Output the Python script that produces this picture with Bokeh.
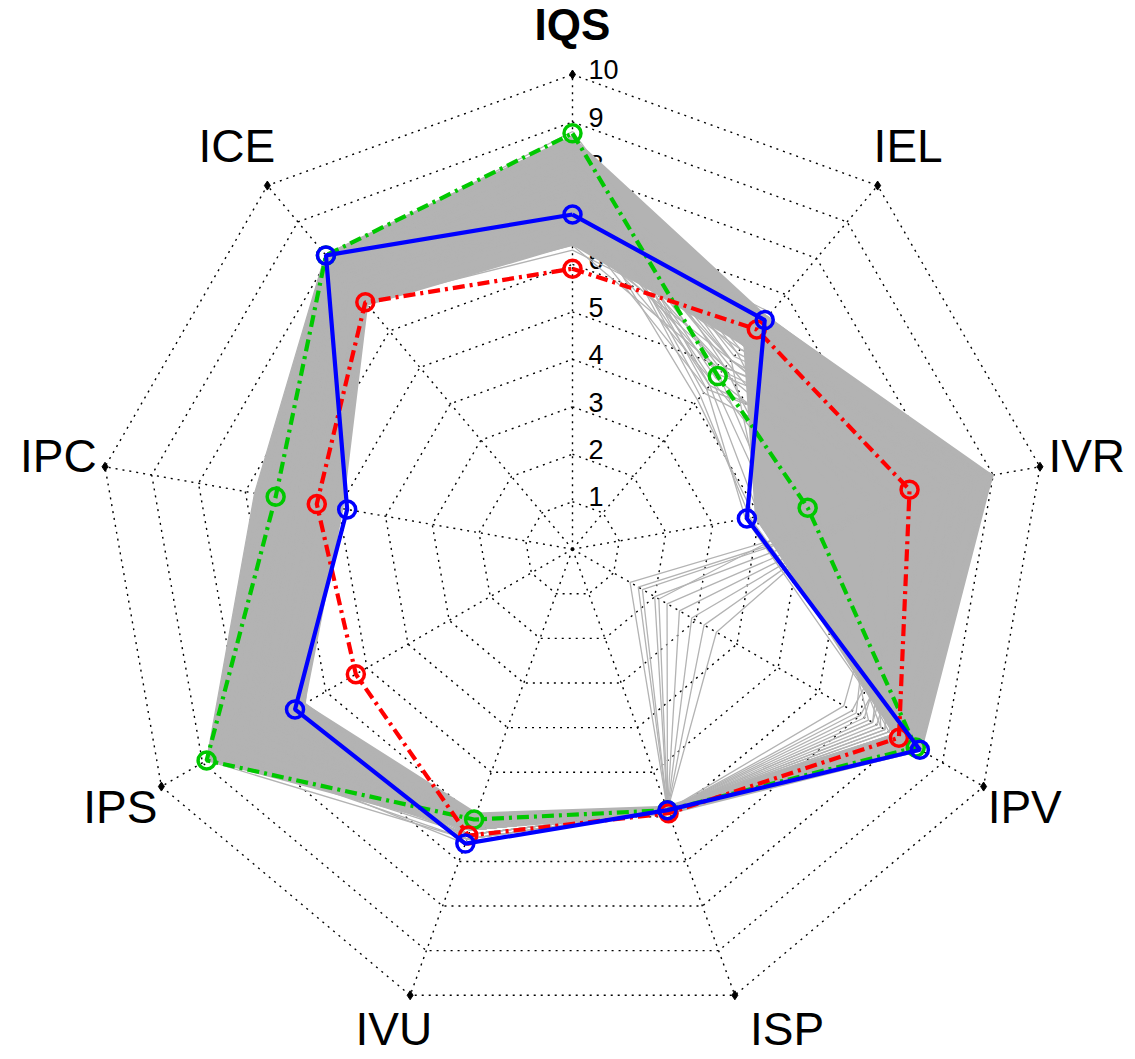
import numpy as np
from bokeh.plotting import figure
from bokeh.models import Range1d
from bokeh.core.properties import value
from bokeh.embed import file_html
from bokeh.resources import INLINE

# ---- data -------------------------------------------------------------
axis_names = ["IQS", "IEL", "IVR", "IPV", "ISP", "IVU", "IPS", "IPC", "ICE"]
ring_levels = [1, 2, 3, 4, 5, 6, 7, 8, 9, 10]
ring_labels = ["1", "2", "3", "4", "5", "6", "7", "8", "9", "10"]

green_scores = [8.76, 4.76, 5.03, 8.35, 5.85, 6.06, 8.90, 6.35, 8.08]
red_scores = [5.91, 6.04, 7.21, 7.94, 5.92, 6.42, 5.27, 5.47, 6.79]
blue_scores = [7.05, 6.30, 3.73, 8.45, 5.85, 6.60, 6.75, 4.82, 8.08]

# envelope of the bulk of the simulated profiles
band_outer = [8.7, 6.4, 9.0, 8.5, 5.95, 6.3, 8.9, 6.8, 8.1]
band_inner = [6.4, 5.6, 3.9, 7.8, 5.75, 5.9, 6.5, 4.9, 6.7]

# individual simulated profiles (IQS, IEL, IVR, IPV, ISP, IVU, IPS, IPC, ICE)
gray_profiles = [
    [8.7, 5.0, 8.9, 8.3, 5.85, 6.2, 8.8, 6.6, 8.1],
    [8.5, 5.3, 9.0, 8.1, 5.85, 6.3, 8.5, 6.4, 8.0],
    [8.4, 4.8, 8.6, 7.9, 5.85, 6.1, 8.7, 6.7, 7.9],
    [8.2, 5.6, 8.8, 8.4, 5.85, 6.4, 8.2, 6.2, 7.8],
    [8.0, 5.9, 8.4, 7.7, 5.85, 6.0, 8.0, 6.0, 7.7],
    [7.8, 6.1, 8.9, 8.2, 5.85, 6.5, 7.7, 5.8, 7.6],
    [7.6, 6.3, 8.1, 7.4, 5.85, 6.2, 7.5, 5.6, 7.4],
    [7.4, 6.4, 7.7, 7.1, 5.85, 6.1, 7.2, 5.4, 7.3],
    [7.2, 6.0, 8.5, 7.9, 5.85, 6.3, 7.0, 5.2, 7.1],
    [7.0, 5.7, 7.3, 7.6, 5.85, 6.4, 6.8, 5.0, 7.0],
    [6.8, 5.5, 8.7, 8.0, 5.85, 6.0, 6.6, 5.1, 6.9],
    [6.6, 5.2, 7.9, 7.3, 5.85, 6.2, 6.5, 5.3, 6.8],
    [6.4, 4.9, 8.2, 8.3, 5.85, 6.3, 6.9, 5.5, 6.9],
    [8.6, 4.5, 7.5, 8.0, 5.85, 6.5, 8.9, 6.8, 8.1],
    [8.3, 4.3, 6.9, 7.8, 5.85, 6.4, 8.6, 6.5, 8.0],
    [8.1, 4.7, 6.3, 7.5, 5.85, 6.1, 8.3, 6.3, 7.9],
    [7.9, 5.1, 5.8, 8.1, 5.85, 6.3, 8.1, 6.1, 7.7],
    [7.7, 5.4, 5.2, 7.2, 5.85, 6.0, 7.8, 5.9, 7.5],
    [7.5, 5.8, 6.6, 6.9, 5.85, 6.2, 7.6, 5.7, 7.4],
    [7.3, 6.2, 7.1, 6.6, 5.85, 6.4, 7.3, 5.5, 7.2],
    [7.1, 6.5, 4.6, 8.2, 5.85, 6.5, 7.1, 5.3, 7.1],
    [6.9, 4.4, 3.7, 7.9, 5.85, 6.3, 7.9, 6.0, 7.6],
    [7.5, 4.1, 3.9, 8.4, 5.85, 6.6, 8.4, 6.4, 7.9],
    [8.0, 4.6, 4.3, 7.7, 5.85, 6.2, 8.0, 6.2, 7.8],
    [7.8, 4.5, 4.0, 8.0, 5.85, 6.2, 8.2, 6.3, 7.8],
    [7.2, 4.8, 4.4, 7.8, 5.85, 6.4, 7.7, 5.9, 7.5],
    [6.8, 5.0, 4.8, 7.5, 5.85, 6.1, 7.3, 5.6, 7.2],
    [8.3, 4.2, 3.8, 8.3, 5.85, 6.5, 8.6, 6.6, 8.0],
    [7.0, 4.6, 5.2, 8.1, 5.85, 6.3, 7.4, 5.8, 7.3],
    [7.6, 5.2, 4.1, 7.9, 5.85, 6.2, 7.9, 6.1, 7.6],
    [8.4, 5.5, 8.9, 1.4, 5.85, 6.2, 8.3, 6.1, 7.8],
    [8.1, 5.8, 8.6, 1.7, 5.85, 6.1, 7.9, 5.9, 7.6],
    [7.7, 6.0, 8.3, 2.0, 5.85, 6.3, 7.6, 5.7, 7.5],
    [7.4, 6.2, 8.0, 2.3, 5.85, 6.0, 7.4, 5.5, 7.3],
    [7.0, 5.9, 7.6, 2.6, 5.85, 6.2, 7.1, 5.4, 7.1],
    [6.7, 5.6, 7.2, 2.9, 5.85, 6.4, 6.8, 5.2, 7.0],
    [8.6, 5.2, 6.8, 3.2, 5.85, 6.3, 8.7, 6.6, 8.1],
    [7.9, 4.9, 6.4, 3.5, 5.85, 6.1, 8.2, 6.3, 7.8],
    [7.2, 6.4, 8.8, 1.6, 5.85, 6.0, 7.3, 5.6, 7.2],
    [6.5, 6.3, 5.9, 2.1, 5.85, 6.2, 6.6, 5.0, 6.8],
    [8.8, 5.4, 8.4, 8.5, 5.85, 6.1, 8.6, 6.5, 8.0],
    [8.2, 6.0, 7.9, 8.2, 5.85, 6.4, 8.4, 6.4, 7.9],
    [7.6, 5.6, 9.0, 7.0, 5.85, 6.3, 7.7, 5.9, 7.5],
    [7.3, 5.0, 8.6, 6.8, 5.85, 6.1, 7.2, 5.6, 7.3],
    [6.9, 6.1, 7.4, 8.0, 5.85, 6.5, 7.0, 5.3, 7.0],
    [6.3, 5.8, 6.8, 7.6, 5.85, 6.3, 6.7, 5.1, 6.8],
    [8.5, 4.4, 8.1, 8.3, 5.85, 6.2, 8.8, 6.7, 8.1],
    [8.0, 5.2, 7.0, 7.3, 5.85, 6.0, 8.1, 6.1, 7.7],
]

# ---- geometry -----------------------------------------------------------
n_axes = len(axis_names)
theta = np.deg2rad(90.0 - 360.0 / n_axes * np.arange(n_axes))
cos_t, sin_t = np.cos(theta), np.sin(theta)


def polar(vals, close=True):
    v = np.asarray(vals, dtype=float)
    xs, ys = v * cos_t, v * sin_t
    if close:
        xs, ys = np.append(xs, xs[0]), np.append(ys, ys[0])
    return list(xs), list(ys)


PX = 47.47          # pixels per score unit
CX, CY = 572.0, 548.7
W, H = 1135, 1059

p = figure(width=W, height=H, output_backend="svg", toolbar_location=None,
           x_axis_type=None, y_axis_type=None, min_border=0,
           x_range=Range1d(-CX / PX, (W - CX) / PX),
           y_range=Range1d(-(H - CY) / PX, CY / PX))
p.outline_line_color = None
p.grid.visible = False
p.background_fill_color = "white"
p.border_fill_color = "white"

FONT = value("Liberation Sans")

# dotted web: rings and spokes
ring_xs, ring_ys = [], []
for lv in ring_levels:
    xs, ys = polar([lv] * n_axes)
    ring_xs.append(xs)
    ring_ys.append(ys)
p.multi_line(ring_xs, ring_ys, line_color="black", line_width=1.4, line_dash="2 5")

top = max(ring_levels)
spoke_xs = [[0, top * c] for c in cos_t]
spoke_ys = [[0, top * s] for s in sin_t]
p.multi_line(spoke_xs, spoke_ys, line_color="black", line_width=1.4, line_dash="2 5")
p.scatter(list(top * cos_t), list(top * sin_t), marker="diamond", size=9,
          color="black")

# ring values along the first spoke
p.text(x=[16 / PX] * len(ring_levels), y=[lv + 0.1 for lv in ring_levels],
       text=ring_labels, text_font=FONT, text_font_size="27px",
       text_align="left", text_baseline="middle", text_color="black")

# spoke titles
label_r = 11.0
nudge_x = {"ISP": 36 / PX}
nudge_y = {"IVU": 8 / PX, "ISP": 8 / PX}
lx = [label_r * c + nudge_x.get(n, 0.0) for n, c in zip(axis_names, cos_t)]
ly = [label_r * s + 3 / PX + nudge_y.get(n, 0.0) for n, s in zip(axis_names, sin_t)]
p.text(x=lx[1:], y=ly[1:], text=axis_names[1:], text_font=FONT,
       text_font_size="46px", text_align="center", text_baseline="middle",
       text_color="black")
p.text(x=[lx[0]], y=[ly[0]], text=[axis_names[0]], text_font=FONT,
       text_font_size="44px", text_font_style="bold", text_align="center",
       text_baseline="middle", text_color="black")

# grey cloud of simulated profiles
GREY = "#b3b3b3"
ox, oy = polar(band_outer)
ix, iy = polar(band_inner)
p.multi_polygons(xs=[[[ox, ix]]], ys=[[[oy, iy]]], fill_color=GREY,
                 line_color=None)
gx, gy = [], []
for prof in gray_profiles:
    xs, ys = polar(prof)
    gx.append(xs)
    gy.append(ys)
p.multi_line(gx, gy, line_color=GREY, line_width=1.3)

# highlighted profiles
series = [
    (green_scores, "#00c800", "12 5 3 5"),
    (red_scores, "#ff0000", "12 5 3 5"),
    (blue_scores, "#0000ff", "solid"),
]
for vals, col, dash in series:
    xs, ys = polar(vals)
    p.line(xs, ys, line_color=col, line_width=4.2, line_dash=dash)
    mx, my = polar(vals, close=False)
    p.scatter(mx, my, marker="circle", size=17, fill_color=None,
              line_color=col, line_width=3.5)

open("out.html", "w").write(file_html(p, INLINE))
